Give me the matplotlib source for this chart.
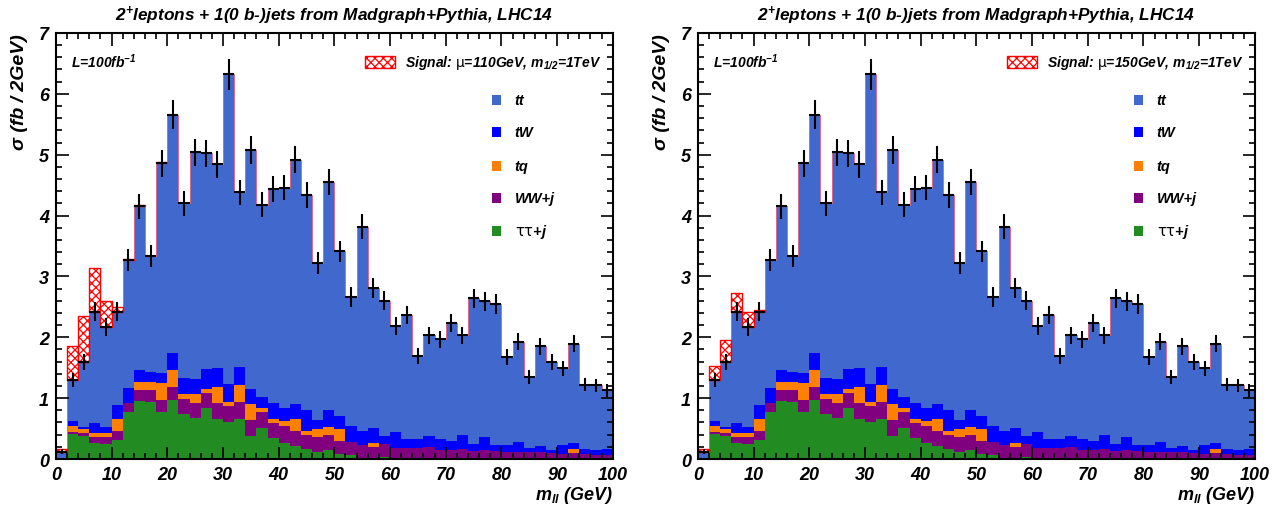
import numpy as np
import matplotlib
matplotlib.use("Agg")
import matplotlib.pyplot as plt
from matplotlib.patches import Rectangle
from matplotlib.ticker import MultipleLocator

# m_ll bins: 50 bins of 2 GeV from 0 to 100
edges = np.arange(0, 102, 2)

# per-process contributions (fb / 2GeV), stacked bottom -> top
tautau_j = [0.00, 0.41, 0.37, 0.26, 0.24, 0.31, 0.77, 0.95, 0.93, 0.77,
            0.97, 0.74, 0.67, 0.84, 0.65, 0.60, 0.65, 0.37, 0.51, 0.34,
            0.27, 0.21, 0.16, 0.11, 0.14, 0.08, 0.07, 0.00, 0.00, 0.03,
            0.00, 0.00, 0.00, 0.00, 0.00, 0.00, 0.00, 0.00, 0.00, 0.00,
            0.00, 0.00, 0.00, 0.00, 0.00, 0.00, 0.00, 0.00, 0.00, 0.00]
ww_j = [0.00, 0.03, 0.05, 0.10, 0.12, 0.15, 0.15, 0.18, 0.20, 0.20,
        0.21, 0.24, 0.25, 0.24, 0.27, 0.27, 0.28, 0.27, 0.26, 0.25,
        0.28, 0.25, 0.23, 0.25, 0.26, 0.21, 0.21, 0.23, 0.20, 0.22,
        0.18, 0.18, 0.18, 0.20, 0.15, 0.15, 0.16, 0.13, 0.15, 0.13,
        0.12, 0.12, 0.12, 0.12, 0.10, 0.08, 0.10, 0.08, 0.07, 0.07]
tq = [0.00, 0.11, 0.07, 0.07, 0.06, 0.19, 0.00, 0.13, 0.13, 0.28,
      0.28, 0.09, 0.15, 0.07, 0.26, 0.06, 0.28, 0.26, 0.07, 0.06,
      0.07, 0.19, 0.07, 0.13, 0.13, 0.20, 0.00, 0.00, 0.06, 0.00,
      0.00, 0.00, 0.00, 0.00, 0.00, 0.00, 0.00, 0.00, 0.00, 0.00,
      0.00, 0.00, 0.00, 0.00, 0.00, 0.00, 0.06, 0.00, 0.00, 0.00]
tw = [0.00, 0.07, 0.04, 0.16, 0.10, 0.23, 0.24, 0.20, 0.17, 0.16,
      0.28, 0.26, 0.24, 0.33, 0.31, 0.31, 0.30, 0.25, 0.18, 0.27,
      0.22, 0.25, 0.34, 0.15, 0.28, 0.22, 0.26, 0.23, 0.25, 0.13,
      0.27, 0.15, 0.15, 0.18, 0.18, 0.15, 0.24, 0.12, 0.21, 0.10,
      0.11, 0.16, 0.06, 0.09, 0.05, 0.15, 0.10, 0.08, 0.08, 0.09]
tt = [0.12, 0.68, 1.07, 1.83, 1.65, 1.54, 2.11, 2.69, 1.91, 3.45,
      3.92, 2.87, 3.73, 3.54, 3.35, 5.08, 2.87, 3.92, 3.16, 3.52,
      3.62, 4.02, 3.54, 2.58, 3.74, 2.70, 2.12, 3.36, 2.30, 2.22,
      1.73, 2.03, 1.36, 1.65, 1.64, 1.94, 1.63, 2.39, 2.23, 2.32,
      1.45, 1.65, 1.17, 1.64, 1.45, 1.26, 1.63, 1.06, 1.06, 0.97]

# statistical error on the total background
bkg_err = [0.04, 0.11, 0.13, 0.16, 0.15, 0.16, 0.18, 0.20, 0.18, 0.22,
           0.24, 0.20, 0.22, 0.22, 0.22, 0.25, 0.21, 0.23, 0.20, 0.21,
           0.21, 0.22, 0.21, 0.18, 0.21, 0.18, 0.16, 0.20, 0.17, 0.16,
           0.15, 0.15, 0.13, 0.14, 0.14, 0.15, 0.14, 0.16, 0.16, 0.16,
           0.13, 0.14, 0.12, 0.14, 0.13, 0.12, 0.14, 0.11, 0.11, 0.11]

# signal on top of the background
signal_110 = [0.05, 0.56, 0.75, 0.72, 0.43, 0.07, 0.01, 0.02, 0.00, 0.02] + [0.0] * 40
signal_150 = [0.04, 0.23, 0.35, 0.30, 0.24, 0.03] + [0.0] * 44

processes = [
    ("tautau", tautau_j, "#228b22", r"$\mathrm{\tau\tau}$+j"),
    ("ww", ww_j, "#800080", "WW+j"),
    ("tq", tq, "#ff8000", "tq"),
    ("tw", tw, "#0000ff", "tW"),
    ("tt", tt, "#4169cd", "tt"),
]

FONT = ["Liberation Sans", "DejaVu Sans"]


def draw_panel(ax, signal, mu):
    base = np.zeros(len(edges) - 1)
    for name, vals, col, lab in processes:
        vals = np.asarray(vals)
        ax.stairs(base + vals, edges, baseline=base, fill=True,
                  facecolor=col, edgecolor="none", lw=0)
        base = base + vals
    total = base

    # thin outline of the signal histogram along the stack top
    sig = np.asarray(signal)
    ax.stairs(total + sig, edges, color="#d86a8a", lw=0.7)
    # hatched signal where it is non-zero
    nz = sig > 0
    ax.bar(edges[:-1][nz], sig[nz], width=2, bottom=total[nz], align="edge",
           facecolor="white", edgecolor="red", hatch="xxxx", lw=1.0)

    centers = 0.5 * (edges[:-1] + edges[1:])
    ax.errorbar(centers, total, xerr=1.0, yerr=bkg_err, fmt="none",
                ecolor="black", elinewidth=1.5, capsize=0)

    ax.set_xlim(0, 100)
    ax.set_ylim(0, 7)
    ax.xaxis.set_major_locator(MultipleLocator(10))
    ax.xaxis.set_minor_locator(MultipleLocator(2))
    ax.yaxis.set_major_locator(MultipleLocator(1))
    ax.yaxis.set_minor_locator(MultipleLocator(0.2))
    ax.tick_params(which="both", direction="in", top=True, right=True, width=1.2)
    ax.tick_params(which="major", length=9, labelsize=13, pad=5)
    ax.tick_params(which="minor", length=4.5)
    for lbl in ax.get_xticklabels() + ax.get_yticklabels():
        lbl.set_fontweight("bold")
        lbl.set_fontstyle("italic")
        lbl.set_family(FONT)
    for sp in ax.spines.values():
        sp.set_linewidth(1.5)

    txt = dict(fontweight="bold", fontstyle="italic", family=FONT)
    ax.set_title("2$^{+}$leptons + 1(0 b-)jets from Madgraph+Pythia, LHC14",
                 fontsize=12.4, pad=9, **txt)
    ax.set_ylabel("\u03c3 (fb / 2GeV)", loc="top", fontsize=14, labelpad=8, **txt)
    ax.set_xlabel("m$_{ll}$ (GeV)", loc="right", fontsize=13, labelpad=1, **txt)

    ax.text(0.027, 0.934, "L=100fb$^{-1}$", transform=ax.transAxes,
            fontsize=10, va="center", **txt)

    # legend built by hand, ROOT style
    ax.add_patch(Rectangle((0.555, 0.918), 0.054, 0.028, transform=ax.transAxes,
                           facecolor="white", edgecolor="red", hatch="xxxx",
                           lw=1.0, clip_on=False))
    ax.text(0.627, 0.932, r"Signal: $\mathrm{\mu}$=%dGeV, m$_{1/2}$=1TeV" % mu,
            transform=ax.transAxes, fontsize=10, va="center", **txt)
    ys = [0.843, 0.768, 0.688, 0.613, 0.535]
    for (name, vals, col, lab), y in zip(processes[::-1], ys):
        ax.add_patch(Rectangle((0.783, y - 0.012), 0.016, 0.024,
                               transform=ax.transAxes, facecolor=col,
                               edgecolor="none"))
        ax.text(0.824, y, lab, transform=ax.transAxes, fontsize=10.5,
                va="center", **txt)


def main():
    plt.rcParams["mathtext.default"] = "regular"
    plt.rcParams["hatch.color"] = "red"
    plt.rcParams["hatch.linewidth"] = 0.9
    fig = plt.figure(figsize=(12.83, 5.06), dpi=100)
    ax1 = fig.add_axes([0.0436, 0.0909, 0.434, 0.842])
    ax2 = fig.add_axes([0.544, 0.0909, 0.434, 0.842])
    draw_panel(ax1, signal_110, 110)
    draw_panel(ax2, signal_150, 150)
    fig.savefig("out.png", dpi=100)
    plt.close(fig)


if __name__ == "__main__":
    main()
